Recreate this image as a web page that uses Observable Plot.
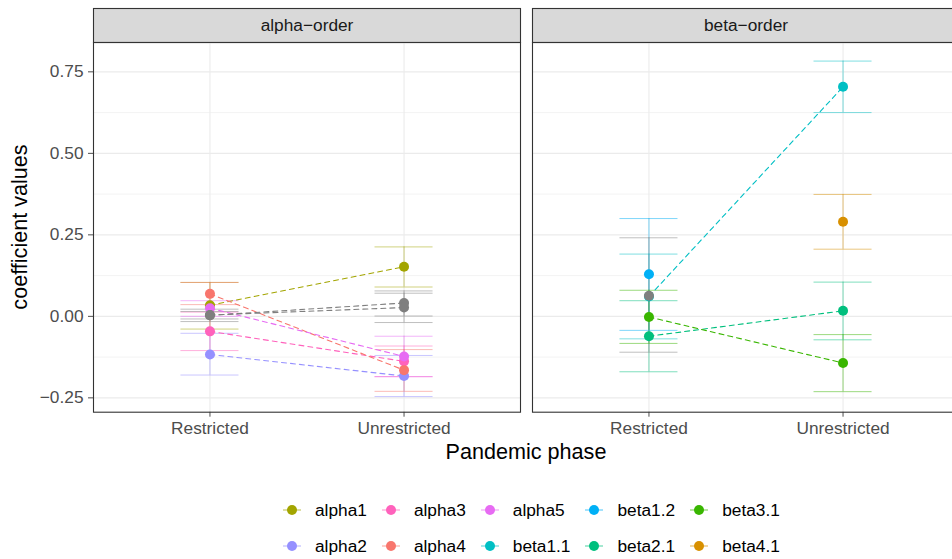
<!DOCTYPE html>
<html>
<head>
<meta charset="utf-8">
<script src="https://cdn.jsdelivr.net/npm/d3@7"></script>
<script src="https://cdn.jsdelivr.net/npm/@observablehq/plot@0.6"></script>
<style>
  html, body { margin: 0; padding: 0; overflow: hidden; background: #fff; }
  #wrap { position: relative; width: 952px; height: 559px; overflow: hidden; font-family: "Liberation Sans", Arial, Helvetica, sans-serif; }
  #chart { position: absolute; left: 0; top: 0; width: 959px; }
  #chart svg { max-width: none !important; }
  .title-x { position: absolute; top: 440px; left: 93px; width: 866px; text-align: center; font-size: 21.6px; color: #000; line-height: 24px; }
  .title-y { position: absolute; left: 20px; top: 227px; transform: translate(-50%, -50%) rotate(-90deg); white-space: nowrap; font-size: 21.6px; color: #000; line-height: 24px; }
  #legend { position: absolute; left: 283px; top: 492px; display: grid; grid-auto-flow: column; grid-template-rows: 36px 36px; column-gap: 15px; }
  .item { display: flex; align-items: center; font-size: 17.3px; color: #000; }
  .item svg { margin-right: 14px; flex: none; }
</style>
</head>
<body>
<div id="wrap">
  <div id="chart"></div>
  <div class="title-x">Pandemic phase</div>
  <div class="title-y">coefficient values</div>
  <div id="legend"></div>
</div>
<script>
// ---- data ----
const panels = ["alpha\u2212order", "beta\u2212order"];
const phases = ["Restricted", "Unrestricted"];
const seriesNames  = ["alpha1","alpha2","alpha3","alpha4","alpha5","beta1.1","beta1.2","beta2.1","beta3.1","beta4.1"];
const seriesColors = ["#A3A500","#9590FF","#FF62BC","#F8766D","#E76BF3","#00BFC4","#00B0F6","#00BF7D","#39B600","#D89000"];
const otherNames  = ["other1","other2","other3"];
const otherColor  = "#7F7F7F";
const yMajor = [-0.25, 0, 0.25, 0.5, 0.75];
const yMinor = [-0.125, 0.125, 0.375, 0.625];

const A = panels[0], B = panels[1], R = phases[0], U = phases[1];
const term     = ["alpha1","alpha1","alpha2","alpha2","alpha3","alpha3","alpha4","alpha4","alpha5","alpha5",
                  "beta1.1","beta1.1","beta1.2","beta2.1","beta2.1","beta3.1","beta3.1","beta4.1",
                  "other1","other1","other2","other2","other3"];
const panel    = [A,A,A,A,A,A,A,A,A,A, B,B,B,B,B,B,B,B, A,A,A,A,B];
const phase    = [R,U,R,U,R,U,R,U,R,U, R,U,R,R,U,R,U,U, R,U,R,U,R];
const estimate = [0.034,0.152,-0.117,-0.183,-0.046,-0.138,0.069,-0.165,0.025,-0.123,
                  0.061,0.704,0.129,-0.061,0.017,-0.002,-0.143,0.290,
                  0.003,0.041,0.004,0.027,0.063];
const lower    = [-0.039,0.090,-0.180,-0.246,-0.105,-0.185,0.036,-0.230,0.000,-0.185,
                  -0.069,0.625,-0.043,-0.170,-0.072,-0.083,-0.231,0.206,
                  -0.016,0.001,-0.008,-0.019,-0.110];
const upper    = [0.104,0.213,-0.052,-0.120,0.013,-0.091,0.104,-0.102,0.048,-0.061,
                  0.191,0.783,0.300,0.048,0.105,0.080,-0.056,0.374,
                  0.022,0.078,0.015,0.071,0.241];

const rows = term.map((t, i) => ({term: t, panel: panel[i], phase: phase[i], estimate: estimate[i], lower: lower[i], upper: upper[i]}));

// ---- layout ----
const W = 959, H = 470, mTop = 42, mBottom = 58.3, mLeft = 93, mRight = 0;
const plotH = H - mTop - mBottom;

const chart = Plot.plot({
  width: W, height: H,
  marginTop: mTop, marginBottom: mBottom, marginLeft: mLeft, marginRight: mRight,
  style: {fontFamily: "Liberation Sans, Arial, Helvetica, sans-serif", fontSize: "17.3px", color: "#4D4D4D", background: "transparent", overflow: "visible", maxWidth: "none"},
  fx: {domain: panels, axis: null, paddingInner: 0.02733, paddingOuter: 0, round: false, label: null},
  x: {domain: phases, type: "band", paddingInner: 0.701, paddingOuter: 0.4506, align: 0.5, round: false, label: null, tickSize: 5, tickPadding: 5},
  y: {domain: [-0.294, 0.84], ticks: yMajor, tickFormat: d3.format(".2f"), label: null, tickSize: 5, tickPadding: 5},
  color: {domain: [...seriesNames, ...otherNames], range: [...seriesColors, ...otherNames.map(() => otherColor)]},
  marks: [
    // strip
    Plot.frame({fill: "#D9D9D9", stroke: "#333333", strokeWidth: 1.1, insetTop: -34, insetBottom: plotH}),
    Plot.text(panels, {fx: d => d, text: d => d, frameAnchor: "top", lineAnchor: "middle", dy: -17, fontSize: 17.3, fill: "#1A1A1A"}),
    // grid
    Plot.ruleY(yMinor, {stroke: "#EBEBEB", strokeWidth: 0.6}),
    Plot.ruleY(yMajor, {stroke: "#EBEBEB", strokeWidth: 1.1}),
    Plot.ruleX(phases, {x: d => d, stroke: "#EBEBEB", strokeWidth: 1.1}),
    // error bars
    Plot.ruleX(rows, {fx: "panel", x: "phase", y1: "lower", y2: "upper", stroke: "term", strokeOpacity: 0.5, strokeWidth: 1}),
    Plot.tickY(rows, {fx: "panel", x: "phase", y: "lower", stroke: "term", strokeOpacity: 0.5, strokeWidth: 1}),
    Plot.tickY(rows, {fx: "panel", x: "phase", y: "upper", stroke: "term", strokeOpacity: 0.5, strokeWidth: 1}),
    // dashed connecting lines
    Plot.line(rows, {fx: "panel", x: "phase", y: "estimate", z: "term", stroke: "term", strokeWidth: 1.1, strokeDasharray: "5,4"}),
    // points
    Plot.dot(rows, {fx: "panel", x: "phase", y: "estimate", fill: "term", r: 5}),
    // panel border
    Plot.frame({stroke: "#333333", strokeWidth: 1.1})
  ]
});
document.getElementById("chart").appendChild(chart);

// ---- legend ----
const legend = document.getElementById("legend");
seriesNames.forEach((name, i) => {
  const item = document.createElement("div");
  item.className = "item";
  const col = seriesColors[i];
  item.innerHTML = `<svg width="18" height="18" viewBox="0 0 18 18"><line x1="0" x2="18" y1="9" y2="9" stroke="${col}" stroke-opacity="0.6" stroke-width="1.2"/><circle cx="9" cy="9" r="5" fill="${col}"/></svg><span>${name}</span>`;
  legend.appendChild(item);
});
</script>
</body>
</html>
